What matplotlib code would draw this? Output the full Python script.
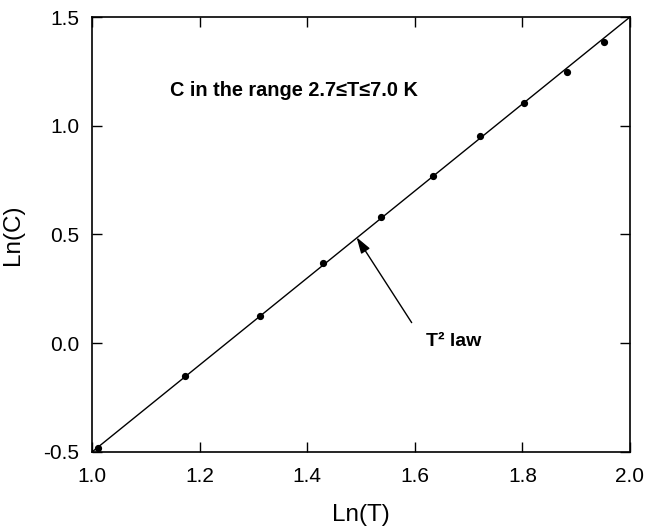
import matplotlib
matplotlib.use("Agg")
import matplotlib.pyplot as plt
import numpy as np

plt.rcParams['font.family'] = ['Liberation Sans', 'DejaVu Sans']

# Data
ln_T = [1.012, 1.173, 1.312, 1.429, 1.537, 1.633, 1.721, 1.803, 1.882, 1.952]
ln_C = [-0.480, -0.152, 0.125, 0.368, 0.582, 0.769, 0.952, 1.104, 1.246, 1.385]
fit_x = [1.0, 2.0]
fit_y = [-0.5, 1.5]
x_ticks = [1.0, 1.2, 1.4, 1.6, 1.8, 2.0]
y_ticks = [-0.5, 0.0, 0.5, 1.0, 1.5]

fig = plt.figure(figsize=(6.47, 5.30), dpi=100)
ax = fig.add_axes([0.1422, 0.1472, 0.8315, 0.8207])

ax.plot(fit_x, fit_y, color='black', lw=1.0)
ax.plot(ln_T, ln_C, 'o', color='black', markersize=4.2)

ax.set_xlim(1.0, 2.0)
ax.set_ylim(-0.5, 1.5)
ax.set_xticks(x_ticks)
ax.set_yticks(y_ticks)
ax.set_xticklabels([f"{v:.1f}" for v in x_ticks])
ax.set_yticklabels([f"{v:.1f}" for v in y_ticks])
ax.tick_params(direction='in', length=7, width=1.0, top=True, right=True,
               labelsize=15)
ax.tick_params(axis='x', pad=11)
ax.tick_params(axis='y', pad=9)
for s in ax.spines.values():
    s.set_linewidth(1.2)

ax.set_xlabel('Ln(T)', fontsize=17.5, labelpad=13)
ax.set_ylabel('Ln(C)', fontsize=17.5, labelpad=14)

ax.text(1.145, 1.164, 'C in the range 2.7≤T≤7.0 K', fontsize=14.3, fontweight='bold',
        ha='left', va='center')

ax.annotate('', xy=(1.489, 0.498), xytext=(1.597, 0.084),
            arrowprops=dict(arrowstyle='-|>,head_length=0.7,head_width=0.22',
                            color='black', lw=1.0, mutation_scale=14))
ax.text(1.621, 0.007, 'T² law', fontsize=14, fontweight='bold', ha='left', va='center')

fig.savefig('out.png', dpi=100)
